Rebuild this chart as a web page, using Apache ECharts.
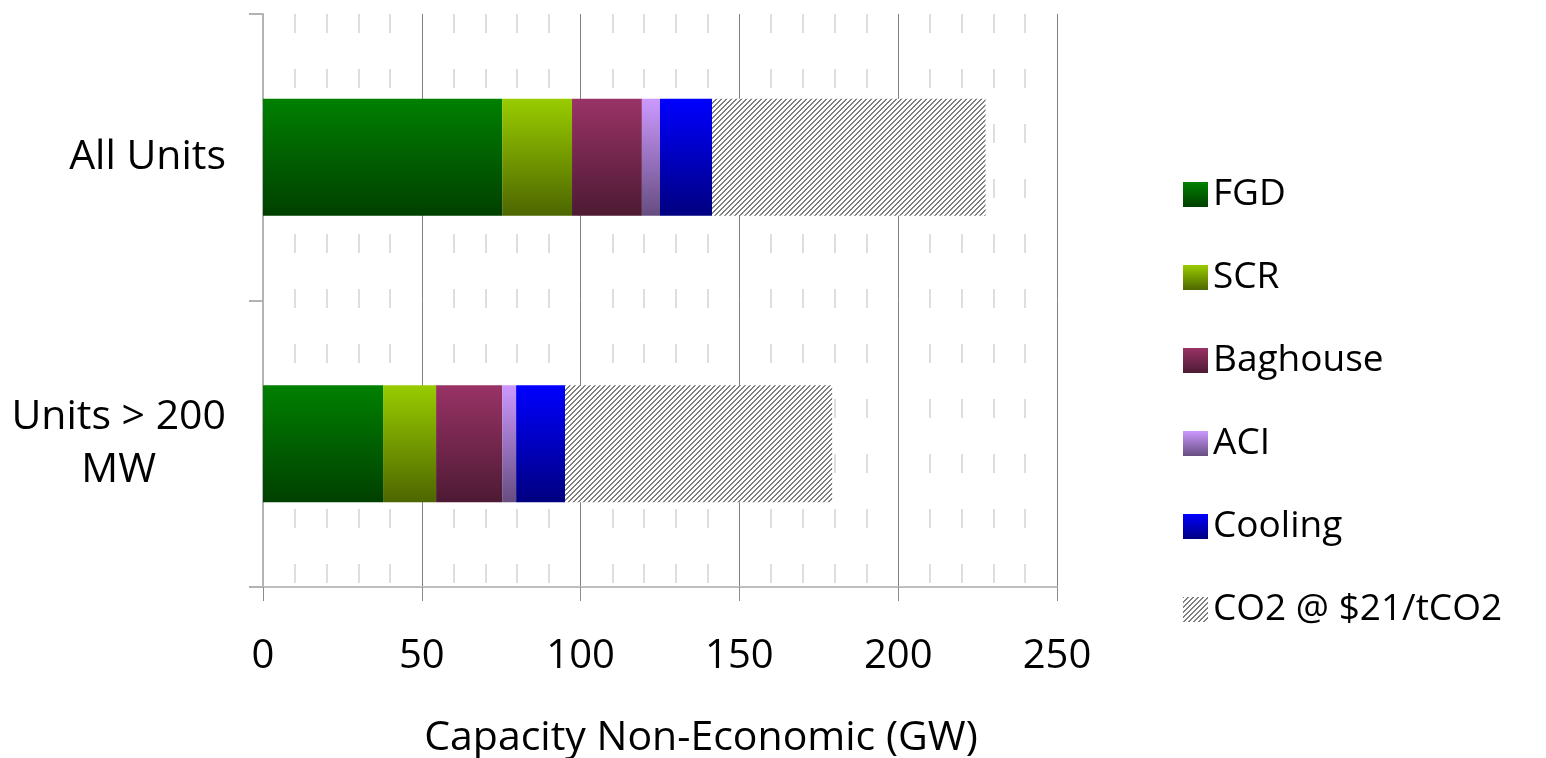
<!DOCTYPE html>
<html>
<head>
<meta charset="utf-8">
<script src="https://cdn.jsdelivr.net/npm/echarts@6/dist/echarts.min.js"></script>
<style>
html,body{margin:0;padding:0;background:#fff;}
#chart{width:1546px;height:758px;}
</style>
</head>
<body>
<div id="chart"></div>
<script>
// ---- data ----
var categories = ['All Units', 'Units > 200\nMW'];
var seriesNames = ['FGD', 'SCR', 'Baghouse', 'ACI', 'Cooling', 'CO2 @ $21/tCO2'];
var fgd = [75.3, 37.8];
var scr = [22.0, 16.7];
var baghouse = [22.0, 20.8];
var aci = [5.7, 4.4];
var cooling = [16.4, 15.4];
var co2 = [86.1, 84.1];
var xTicks = [0, 50, 100, 150, 200, 250];

// ---- styles ----
function grad(top, bottom) {
  return new echarts.graphic.LinearGradient(0, 0, 0, 1, [
    {offset: 0, color: top}, {offset: 1, color: bottom}
  ]);
}
function hatch() {
  var n = 5;
  var c = document.createElement('canvas');
  c.width = n; c.height = n;
  var g = c.getContext('2d');
  g.fillStyle = '#ffffff';
  g.fillRect(0, 0, n, n);
  g.fillStyle = '#808080';
  for (var i = 0; i < n; i++) {
    g.fillRect(i, n - 1 - i, 1, 1);
    g.fillRect(i, (n - i) % n, 1, 1);
  }
  return {image: c, repeat: 'repeat'};
}
var fills = [
  grad('#008000', '#004000'),
  grad('#99CC00', '#4D6600'),
  grad('#993366', '#4D1A33'),
  grad('#CC99FF', '#664D80'),
  grad('#0000FF', '#000080'),
  hatch()
];
var values = [fgd, scr, baghouse, aci, cooling, co2];
var FONT = 'Open Sans';

var series = seriesNames.map(function (name, i) {
  return {
    name: name,
    type: 'bar',
    stack: 'total',
    barWidth: 117,
    data: values[i],
    itemStyle: {color: fills[i]},
    emphasis: {disabled: true},
    animation: false
  };
});

var chart = echarts.init(document.getElementById('chart'), null, {renderer: 'canvas'});
chart.setOption({
  backgroundColor: '#ffffff',
  animation: false,
  grid: {left: 263, right: 489, top: 14, bottom: 171, containLabel: false, outerBoundsMode: 'none'},
  legend: {
    orient: 'vertical',
    left: 1178,
    top: 171,
    itemWidth: 25,
    itemHeight: 25,
    itemGap: 46,
    itemTextGap: 13,
    icon: 'rect',
    selectedMode: false,
    data: seriesNames,
    textStyle: {fontFamily: FONT, fontSize: 37, color: '#000'}
  },
  xAxis: {
    type: 'value',
    min: xTicks[0],
    max: xTicks[xTicks.length - 1],
    interval: 50,
    name: 'Capacity Non-Economic (GW)',
    nameLocation: 'middle',
    nameGap: 131,
    nameTextStyle: {fontFamily: FONT, fontSize: 41, color: '#000', padding: [0, 0, 0, 82]},
    axisLine: {show: true, lineStyle: {color: '#bfbfbf', width: 2}},
    axisTick: {show: true, length: 14, lineStyle: {color: '#8c8c8c', width: 1}},
    axisLabel: {margin: 50, fontFamily: FONT, fontSize: 40, color: '#000'},
    splitLine: {show: true, lineStyle: {color: '#808080', width: 1}},
    minorTick: {show: false, splitNumber: 5},
    minorSplitLine: {show: true, lineStyle: {color: '#d4d4d4', width: 1.5, type: [19, 36]}}
  },
  yAxis: {
    type: 'category',
    inverse: true,
    data: categories,
    axisLine: {show: true, lineStyle: {color: '#b3b3b3', width: 2}},
    axisTick: {show: true, length: 14, lineStyle: {color: '#b3b3b3', width: 2}},
    axisLabel: {
      margin: 37,
      align: 'right',
      formatter: function (v) {
        return v.split('\n').map(function (s) { return '{c|' + s + '}'; }).join('\n');
      },
      rich: {c: {fontFamily: FONT, fontSize: 41, color: '#000', align: 'center', lineHeight: 53}}
    },
    splitLine: {show: false}
  },
  series: series
});
</script>
</body>
</html>
